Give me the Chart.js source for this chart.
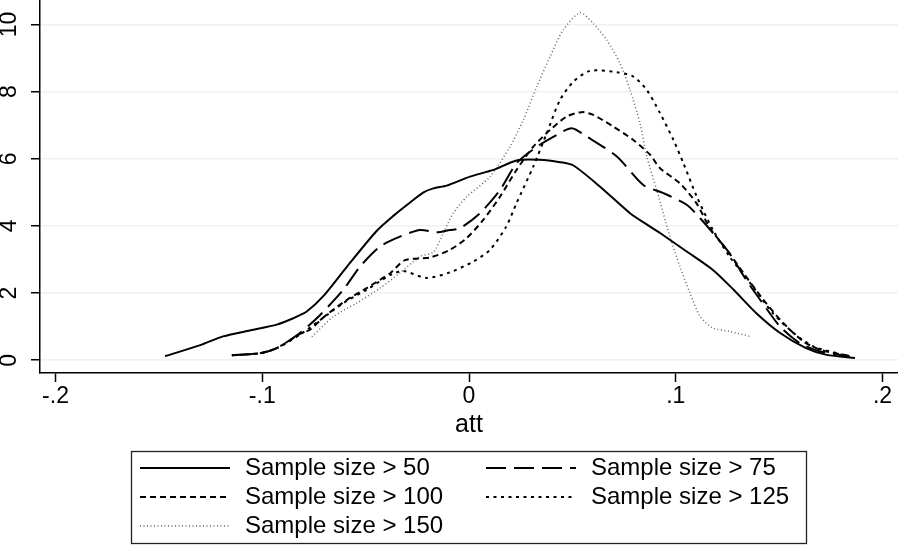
<!DOCTYPE html>
<html>
<head>
<meta charset="utf-8">
<script src="https://cdn.jsdelivr.net/npm/chart.js@4/dist/chart.umd.min.js"></script>
<style>
  body { margin: 0; background: #fff; }
  #wrap { width: 898px; height: 545px; }
</style>
</head>
<body>
<div id="wrap"><canvas id="chartAtt"></canvas></div>
<script>

const xTicks = [-0.2, -0.1, 0, 0.1, 0.2];
const xTickLabels = ['-.2', '-.1', '0', '.1', '.2'];
const yTicks = [0, 2, 4, 6, 8, 10];

const labels = ['Sample size > 50', 'Sample size > 75', 'Sample size > 100', 'Sample size > 125', 'Sample size > 150'];

// kernel density curves
const s50x = [-0.147,-0.13,-0.119,-0.105,-0.093,-0.085,-0.0785,-0.0706,-0.059,-0.0447,-0.0366,-0.0285,-0.022,-0.0172,-0.0108,0.0005,0.0118,0.023,0.034,0.044,0.0505,0.0634,0.0779,0.0876,0.0924,0.1053,0.118,0.128,0.139,0.1505,0.163,0.173,0.1867];
const s50y = [0.12,0.45,0.71,0.9,1.06,1.25,1.45,1.9,2.79,3.85,4.3,4.7,5.0,5.12,5.2,5.47,5.67,5.95,5.97,5.9,5.8,5.17,4.38,3.98,3.79,3.24,2.69,2.1,1.40,0.81,0.36,0.16,0.07];

const s75x = [-0.1147,-0.101,-0.093,-0.0818,-0.072,-0.0608,-0.0527,-0.043,-0.0334,-0.0237,-0.0156,-0.0092,-0.0044,0.0053,0.015,0.023,0.0328,0.0424,0.0497,0.057,0.0715,0.0843,0.094,0.1053,0.1118,0.118,0.126,0.134,0.142,0.1505,0.160,0.17,0.184];
const s75y = [0.15,0.21,0.36,0.81,1.35,2.1,2.79,3.39,3.68,3.88,3.81,3.88,3.93,4.38,5.07,5.87,6.36,6.71,6.91,6.66,6.07,5.22,4.98,4.63,4.23,3.79,3.19,2.4,1.7,1.0,0.51,0.26,0.11];

const s100x = [-0.1147,-0.101,-0.093,-0.0818,-0.077,-0.069,-0.059,-0.0495,-0.038,-0.031,-0.0189,-0.0092,-0.0011,0.0069,0.015,0.023,0.0311,0.0392,0.0473,0.0545,0.0601,0.0698,0.0795,0.0876,0.0924,0.102,0.110,0.1166,0.1247,0.1327,0.1424,0.1521,0.1617,0.17,0.184];
const s100y = [0.15,0.21,0.36,0.78,0.91,1.35,1.8,2.15,2.6,2.98,3.06,3.29,3.64,4.18,4.87,5.67,6.36,6.86,7.26,7.39,7.31,6.96,6.56,6.12,5.72,5.27,4.68,3.93,3.29,2.6,1.8,1.1,0.56,0.31,0.13];

const s125x = [-0.1147,-0.101,-0.093,-0.0818,-0.0608,-0.0495,-0.038,-0.0318,-0.0205,-0.0092,0.0021,0.0102,0.018,0.023,0.0311,0.0376,0.044,0.0505,0.0585,0.0715,0.0795,0.086,0.0924,0.0989,0.1037,0.1102,0.118,0.126,0.136,0.147,0.157,0.1666,0.178,0.184];
const s125y = [0.15,0.21,0.36,0.76,1.7,2.1,2.54,2.66,2.45,2.62,2.94,3.29,3.98,4.68,5.77,6.76,7.75,8.3,8.62,8.58,8.45,8.05,7.36,6.56,5.87,4.87,3.88,3.09,2.3,1.40,0.81,0.41,0.21,0.11];

const s150x = [-0.076,-0.0656,-0.0544,-0.043,-0.0334,-0.0237,-0.0172,-0.0124,-0.0076,-0.0011,0.0102,0.0198,0.0263,0.0328,0.0392,0.0456,0.0537,0.0601,0.0666,0.073,0.0779,0.0827,0.086,0.0908,0.0972,0.102,0.1069,0.1118,0.118,0.126,0.136];
const s150y = [0.7,1.3,1.7,2.15,2.6,3.09,3.22,3.79,4.38,4.87,5.47,6.36,7.16,8.15,9.04,9.84,10.35,10.03,9.54,8.85,8.05,7.06,6.07,5.07,3.68,2.79,2.0,1.30,0.96,0.86,0.71];

function pts(xs, ys) {
  return xs.map((x, i) => ({x: x, y: ys[i]}));
}

const FONT = '"Liberation Sans", Arial, sans-serif';

// legend drawn in a box under the plot, two columns like Stata
const legendBox = {
  id: 'legendBox',
  afterDraw(chart) {
    const ctx = chart.ctx;
    ctx.save();
    ctx.setLineDash([]);
    ctx.strokeStyle = '#222';
    ctx.lineWidth = 1.3;
    ctx.strokeRect(131.5, 451.5, 675, 92);
    chart.data.datasets.forEach((ds, i) => {
      const col = i % 2, row = Math.floor(i / 2);
      const x0 = col ? 486 : 140;
      const y = 468 + row * 29;
      ctx.beginPath();
      ctx.setLineDash(ds.borderDash || []);
      ctx.lineWidth = ds.borderWidth;
      ctx.strokeStyle = ds.borderColor;
      ctx.moveTo(x0, y);
      ctx.lineTo(x0 + 90, y);
      ctx.stroke();
      ctx.setLineDash([]);
      ctx.fillStyle = '#000';
      ctx.font = '24px ' + FONT;
      ctx.textBaseline = 'middle';
      ctx.fillText(ds.label, x0 + 105, y);
    });
    ctx.restore();
  }
};

const chartAtt = new Chart("chartAtt", {
  type: "line",
  data: {
    datasets: [{
      label: labels[0],
      data: pts(s50x, s50y),
      borderColor: "#000",
      borderWidth: 2
    }, {
      label: labels[1],
      data: pts(s75x, s75y),
      borderColor: "#000",
      borderWidth: 2,
      borderDash: [20, 8]
    }, {
      label: labels[2],
      data: pts(s100x, s100y),
      borderColor: "#000",
      borderWidth: 2,
      borderDash: [6, 4]
    }, {
      label: labels[3],
      data: pts(s125x, s125y),
      borderColor: "#000",
      borderWidth: 2,
      borderDash: [3, 4.5]
    }, {
      label: labels[4],
      data: pts(s150x, s150y),
      borderColor: "#666",
      borderWidth: 1.5,
      borderDash: [1, 2.5]
    }]
  },
  options: {
    responsive: true,
    maintainAspectRatio: false,
    animation: false,
    layout: {padding: {top: 0, right: 0, left: 0, bottom: 100}},
    elements: {
      point: {radius: 0},
      line: {tension: 0.25, fill: false}
    },
    plugins: {
      legend: {display: false},
      tooltip: {enabled: false}
    },
    scales: {
      x: {
        type: "linear",
        min: -0.2075,
        max: 0.2075,
        afterBuildTicks: s => { s.ticks = xTicks.map(v => ({value: v})); },
        afterFit: s => { s.height = 72; s.paddingLeft = 0; s.paddingRight = 0; },
        ticks: {
          color: "#000",
          font: {family: FONT, size: 23},
          padding: 1,
          maxRotation: 0,
          callback: (v) => xTickLabels[xTicks.indexOf(v)]
        },
        grid: {drawOnChartArea: false, tickLength: 9, tickColor: "#000", tickWidth: 1.5},
        border: {color: "#000", width: 1.5},
        title: {display: true, text: "att", color: "#000", font: {family: FONT, size: 25}, padding: {top: 0, bottom: 5}}
      },
      y: {
        min: -0.38,
        max: 10.73,
        afterBuildTicks: s => { s.ticks = yTicks.map(v => ({value: v})); },
        afterFit: s => { s.width = 40; s.paddingTop = 0; s.paddingBottom = 0; },
        ticks: {
          color: "#000",
          font: {family: FONT, size: 23},
          minRotation: 90,
          maxRotation: 90,
          crossAlign: "center",
          padding: 9
        },
        grid: {color: "#eaf2f3", lineWidth: 1.5, tickLength: 9, tickColor: "#000", tickWidth: 1.5},
        border: {color: "#000", width: 1.5}
      }
    }
  },
  plugins: [legendBox]
});
</script>
</body>
</html>
